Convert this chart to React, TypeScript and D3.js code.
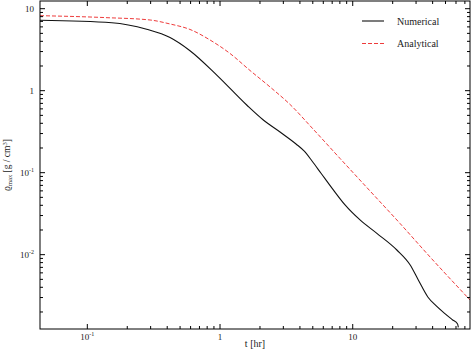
import React from "react";
import * as d3 from "d3";

const numT = [0.044, 0.153, 0.28, 0.42, 0.594, 0.945, 1.589, 2.12, 2.833, 3.738, 4.296, 4.934, 5.77, 7.14, 8.75, 11.35, 15.2, 21.5, 27.1, 31.2, 36.8, 42.6, 49.5, 56.3, 61.7, 62.5];
const numRho = [7.22, 6.75, 5.61, 4.45, 3.07, 1.55, 0.669, 0.439, 0.3135, 0.2239, 0.1839, 0.1389, 0.0984, 0.0616, 0.0404, 0.0265, 0.0182, 0.0114, 0.00748, 0.00491, 0.00305, 0.00237, 0.00191, 0.00161, 0.00143, 0.0013];

const anaT = [0.044, 0.1408, 0.297, 0.42, 0.594, 0.841, 1.19, 1.683, 2.382, 3.369, 5.022, 8.024, 13.5, 22.73, 38.24, 76.55];
const anaRho = [8.22, 7.77, 7.28, 6.51, 5.58, 4.15, 2.84, 1.763, 1.11, 0.679, 0.341, 0.149, 0.0598, 0.024, 0.00938, 0.0028];

const xMajor = [0.1, 1, 10];
const xMajorLabels = [["10", "-1"], ["1", ""], ["10", ""]];
const xMinor = [0.2, 0.3, 0.4, 0.5, 0.6, 0.7, 0.8, 0.9, 2, 3, 4, 5, 6, 7, 8, 9, 20, 30, 40, 50, 60, 70];
const yMajor = [0.01, 0.1, 1, 10];
const yMajorLabels = [["10", "-2"], ["10", "-1"], ["1", ""], ["10", ""]];
const yMinor = [
  0.002, 0.003, 0.004, 0.005, 0.006, 0.007, 0.008, 0.009,
  0.02, 0.03, 0.04, 0.05, 0.06, 0.07, 0.08, 0.09,
  0.2, 0.3, 0.4, 0.5, 0.6, 0.7, 0.8, 0.9,
  2, 3, 4, 5, 6, 7, 8, 9,
];
const seriesNames = ["Numerical", "Analytical"];

const L = 40, R = 470, T = 1, B = 329;
const FONT = "'Liberation Serif', 'Times New Roman', serif";

export default function App() {
  const x = d3.scaleLog().domain([0.044, 76.5]).range([L, R]);
  const y = d3.scaleLog().domain([0.00124, 12.41]).range([B, T]);
  const line = d3
    .line<[number, number]>()
    .x((d) => x(d[0]))
    .y((d) => y(d[1]))
    .curve(d3.curveMonotoneX);
  const numPts = numT.map((t, i) => [t, numRho[i]] as [number, number]);
  const anaPts = anaT.map((t, i) => [t, anaRho[i]] as [number, number]);
  const red = "#ee3b3b";

  return (
    <div style={{ position: "absolute", left: 0, top: 0 }}>
      <svg width={471} height={349} style={{ display: "block", background: "#fff" }} fontFamily={FONT}>
        <defs>
          <clipPath id="plot">
            <rect x={L} y={T} width={R - L} height={B - T} />
          </clipPath>
        </defs>
        <g clipPath="url(#plot)">
          <path d={line(anaPts) || ""} fill="none" stroke={red} strokeWidth={1} strokeDasharray="4,2" />
          <path d={line(numPts) || ""} fill="none" stroke="#111" strokeWidth={1.1} />
        </g>
        <rect x={L} y={T} width={R - L} height={B - T} fill="none" stroke="#000" strokeWidth={1} />
        {xMajor.map((v) => (
          <g key={"xM" + v}>
            <line x1={x(v)} x2={x(v)} y1={B} y2={B - 5} stroke="#000" />
            <line x1={x(v)} x2={x(v)} y1={T} y2={T + 5} stroke="#000" />
          </g>
        ))}
        {xMinor.map((v) => (
          <g key={"xm" + v}>
            <line x1={x(v)} x2={x(v)} y1={B} y2={B - 3} stroke="#000" />
            <line x1={x(v)} x2={x(v)} y1={T} y2={T + 3} stroke="#000" />
          </g>
        ))}
        {yMajor.map((v) => (
          <g key={"yM" + v}>
            <line x1={L} x2={L + 5} y1={y(v)} y2={y(v)} stroke="#000" />
            <line x1={R} x2={R - 5} y1={y(v)} y2={y(v)} stroke="#000" />
          </g>
        ))}
        {yMinor.map((v) => (
          <g key={"ym" + v}>
            <line x1={L} x2={L + 3} y1={y(v)} y2={y(v)} stroke="#000" />
            <line x1={R} x2={R - 3} y1={y(v)} y2={y(v)} stroke="#000" />
          </g>
        ))}
        {xMajor.map((v, i) => (
          <text key={"xl" + v} x={x(v)} y={339.5} fontSize={9} textAnchor="middle" fill="#222">
            {xMajorLabels[i][0]}
            {xMajorLabels[i][1] && (
              <tspan fontSize={6} dy={-3.5}>{xMajorLabels[i][1]}</tspan>
            )}
          </text>
        ))}
        {yMajor.map((v, i) => (
          <text key={"yl" + v} x={34} y={y(v) + 3} fontSize={9} textAnchor="end" fill="#222">
            {yMajorLabels[i][0]}
            {yMajorLabels[i][1] && (
              <tspan fontSize={6} dy={-3.5}>{yMajorLabels[i][1]}</tspan>
            )}
          </text>
        ))}
        <text x={(L + R) / 2} y={346.5} fontSize={10} textAnchor="middle" fill="#222">
          t [hr]
        </text>
        <text transform={`translate(10,${(T + B) / 2}) rotate(-90)`} fontSize={9.5} textAnchor="middle" fill="#222">
          ϱ<tspan fontSize={6.5} dy={2}>max</tspan>
          <tspan dy={-2}> [g / cm</tspan>
          <tspan fontSize={6.5} dy={-3.5}>3</tspan>
          <tspan dy={3.5}>]</tspan>
        </text>
        <line x1={362} x2={384} y1={21} y2={21} stroke="#111" strokeWidth={1.1} />
        <text x={397} y={24.5} fontSize={10} fill="#222">{seriesNames[0]}</text>
        <line x1={362} x2={384} y1={43.5} y2={43.5} stroke={red} strokeWidth={1} strokeDasharray="4,2" />
        <text x={397} y={47} fontSize={10} fill="#222">{seriesNames[1]}</text>
      </svg>
    </div>
  );
}
